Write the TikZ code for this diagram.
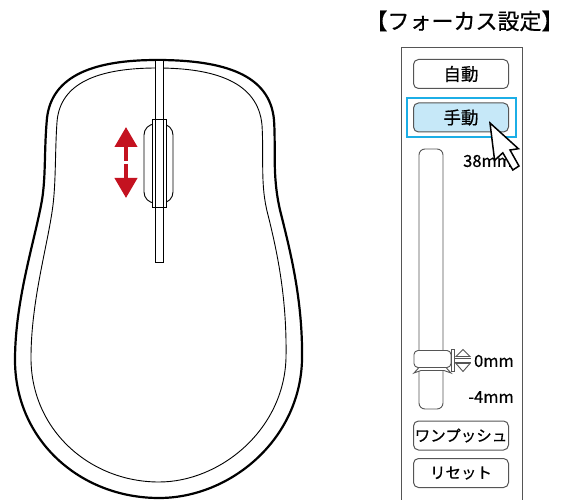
\documentclass[tikz,border=0pt]{standalone}
\usepackage{fontspec}
\setmainfont{Noto Sans CJK JP}[FakeBold=0.6]
\usetikzlibrary{arrows.meta}

\definecolor{arrowred}{RGB}{196,18,32}
\definecolor{hilite}{RGB}{28,174,230}
\definecolor{btnblue}{RGB}{198,232,248}
\definecolor{framegray}{RGB}{85,85,85}

\tikzset{
  btn/.style={draw=framegray, line width=1, rounded corners=5, fill=white,
    minimum width=95, minimum height=29, inner sep=0},
  bigtxt/.style={font=\fontsize{17.5}{17.5}\selectfont},
  smalltxt/.style={font=\fontsize{15.5}{15.5}\selectfont},
  lbl/.style={font=\fontsize{16.5}{16.5}\selectfont, inner sep=0},
  redarrow/.style={arrowred, line width=4, -{Triangle[width=22pt,length=20pt]}},
}

\begin{document}
\begin{tikzpicture}[x=1pt,y=-1pt]
   \useasboundingbox[fill=white] (0,0) rectangle (571,500);

   % mouse body
   \draw[line width=2.2] (157,60) .. controls (225,60) and (270,75) .. (274,120)
      .. controls (276,150) and (272,175) .. (280,210)
      .. controls (290,250) and (303,300) .. (302,360)
      .. controls (300,440) and (230,498) .. (159,498)
      .. controls (80,498) and (15,440) .. (15,360)
      .. controls (15,300) and (35,240) .. (42,200)
      .. controls (46,175) and (44,150) .. (47,118)
      .. controls (52,75) and (95,60) .. (157,60) -- cycle;
   \draw[line width=0.9] (157,68) .. controls (215,68) and (258,82) .. (262,125)
      .. controls (264,160) and (260,185) .. (268,215)
      .. controls (278,255) and (287,300) .. (286,358)
      .. controls (284,430) and (220,482) .. (159,482)
      .. controls (90,482) and (31,430) .. (31,358)
      .. controls (31,300) and (48,245) .. (53,205)
      .. controls (56,180) and (55,150) .. (57,122)
      .. controls (60,82) and (100,68) .. (157,68) -- cycle;

   % wheel
   \draw[line width=0.9, fill=white] (155,60) rectangle (163,262);
   \draw[line width=0.9, fill=white, rounded corners=11] (144,124) rectangle (173,203);
   \draw[line width=0.9, fill=white] (152,119) rectangle (166,207);
   \draw[line width=0.9] (155,119) -- (155,207) (163,119) -- (163,207);

   \coordinate (gapup) at (126,161);
   \coordinate (gapdown) at (126,164);
   \coordinate (tipup) at (126,127);
   \coordinate (tipdown) at (126,198);
   \draw[redarrow] (gapup) -- (tipup);
   \draw[redarrow] (gapdown) -- (tipdown);

   % focus panel
   \node[font=\fontsize{22}{22}\selectfont, inner sep=0] (title) at (464.5,21) {【フォーカス設定】};
   \draw[framegray, line width=1] (401,505) -- (401,48) -- (522,48) -- (522,505);

   \node[btn, bigtxt] (auto) at (461,74) {自動};
   \node[draw=hilite, line width=2, minimum width=109, minimum height=39, inner sep=0] (hl) at (461,117.5) {};
   \node[btn, bigtxt, fill=btnblue] (manual) at (461,117.5) {手動};

   \node[draw=framegray, line width=0.9, rounded corners=6, minimum width=24, minimum height=260, inner sep=0] (track) at (431,279) {};
   \node[draw=framegray, line width=0.9, fill=white, rounded corners=4, minimum width=37, minimum height=17, inner sep=0] (knob) at (432.5,359) {};
   \draw[framegray, line width=0.9, fill=white] (414,373) -- (419,367.5) -- (446,367.5) -- (451,373) -- (444,370.5) -- (421,370.5) -- cycle;

   \draw[framegray, line width=0.9, fill=white] (451,349) rectangle (454.5,371);
   \draw[framegray, line width=0.9] (454.5,358) -- (471,358) (454.5,362) -- (471,362);
   \draw[framegray, line width=0.9, fill=white] (456,356.5) -- (463,349.5) -- (470,356.5) -- cycle;
   \draw[framegray, line width=0.9, fill=white] (456,363.5) -- (463,371.5) -- (470,363.5) -- cycle;

   \node[lbl, anchor=west] (top) at (463,161) {38mm};
   \node[lbl, anchor=east] (zero) at (514,361) {0mm};
   \node[lbl, anchor=east] (low) at (514,397) {-4mm};

   \node[btn, smalltxt] (onepush) at (461,435.5) {ワンプッシュ};
   \node[btn, smalltxt] (reset) at (461,473) {リセット};

   % pointer
   \draw[line width=1.5, fill=white, line join=miter] (490,123) -- (494.6,160.4) -- (502.8,152.8)
      -- (512.8,170) -- (519,166) -- (510,150) -- (518.4,148.7) -- cycle;
\end{tikzpicture}
\end{document}
